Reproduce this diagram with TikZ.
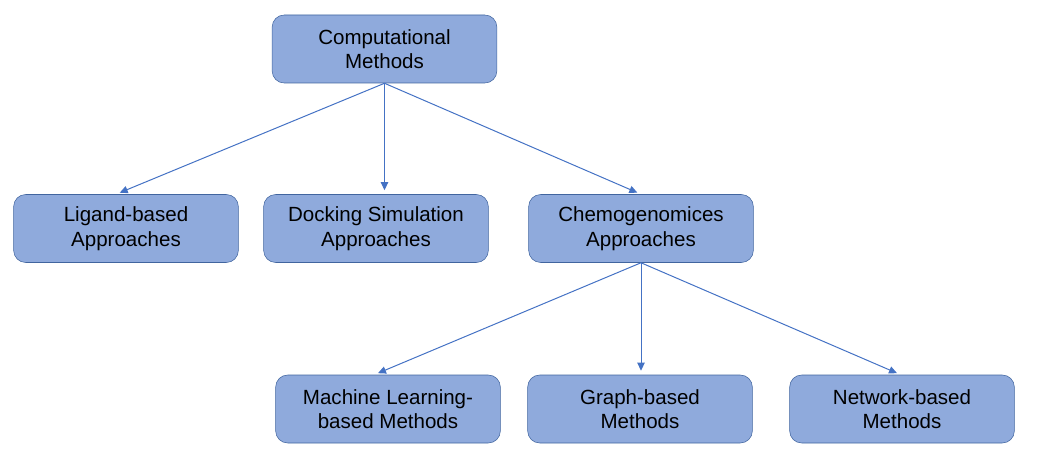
\documentclass[tikz,border=0pt]{standalone}
\usepackage{fontspec}
\setmainfont{Liberation Sans}
\usetikzlibrary{arrows.meta}

\definecolor{boxFill}{HTML}{8FAADC}
\definecolor{boxLine}{HTML}{41659F}
\definecolor{arrowBlue}{HTML}{4472C4}

\begin{document}
\begin{tikzpicture}[x=0.75pt, y=-0.75pt,
	methodBox/.style = {draw = boxLine, fill = boxFill, rounded corners = 9pt, thin,
		minimum width = 168.5pt, minimum height = 51pt, align = center,
		font = \fontsize{15.4}{18.5}\selectfont, inner sep = 0pt},
	branch/.style = {draw = arrowBlue, line width = 0.75pt, shorten > = 3pt,
		-{Triangle[length = 6pt, width = 5.5pt]}}]

	\useasboundingbox (0,0) rectangle (1038,456);

	% top level
	\node [methodBox] (comp) at (384.5, 49) {Computational\\Methods};

	% second level
	\def \rowTwo {228.5};
	\node [methodBox] (lig) at (126, \rowTwo) {Ligand-based\\Approaches};
	\node [methodBox] (doc) at (376, \rowTwo) {Docking Simulation\\Approaches};
	\node [methodBox] (chem) at (641, \rowTwo) {Chemogenomices\\Approaches};

	% third level
	\def \rowThree {409};
	\node [methodBox] (ml) at (388, \rowThree) {Machine Learning-\\based Methods};
	\node [methodBox] (graph) at (640, \rowThree) {Graph-based\\Methods};
	\node [methodBox] (net) at (902, \rowThree) {Network-based\\Methods};

	% arrows from the top box
	\draw [branch] (comp.south) -- ([xshift = -7.5pt]lig.north);
	\draw [branch] (comp.south) -- (comp.south |- doc.north);
	\draw [branch] (comp.south) -- (chem.north);

	% arrows from chemogenomics
	\draw [branch] (chem.south) -- ([xshift = -10.3pt]ml.north);
	\draw [branch] (chem.south) -- (chem.south |- graph.north);
	\draw [branch] (chem.south) -- ([xshift = -1pt]net.north);

\end{tikzpicture}
\end{document}
